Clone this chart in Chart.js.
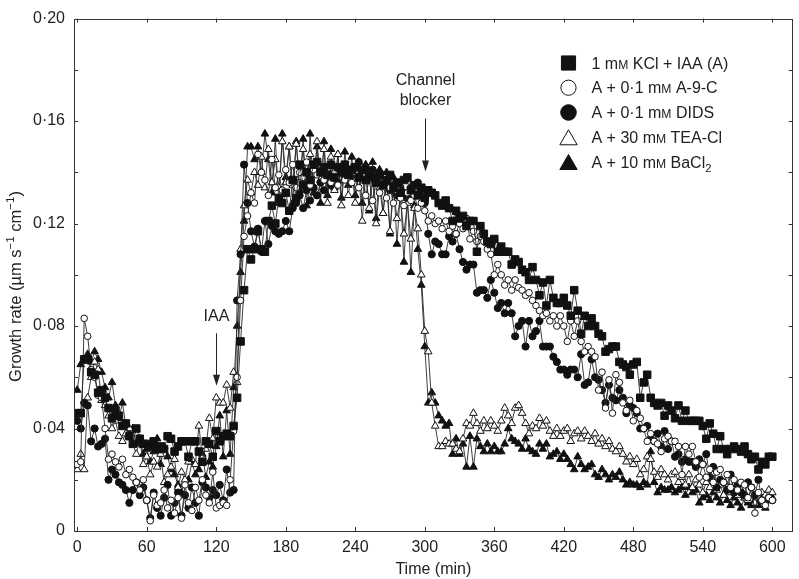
<!DOCTYPE html>
<html><head><meta charset="utf-8">
<script src="https://cdn.jsdelivr.net/npm/chart.js@4/dist/chart.umd.min.js"></script>
<style>html,body{margin:0;padding:0;background:#fff;}#wrap{width:799px;height:579px;}</style>
</head><body><div id="wrap"><canvas id="c" width="799" height="579"></canvas></div>
<script>
const times = [
0,3,6,9,12,15,18,21,24,27,
30,33,36,39,42,45,48,51,54,57,
60,63,66,69,72,75,78,81,84,87,
90,93,96,99,102,105,108,111,114,117,
120,123,126,129,132,135,138,141,144,147,
150,153,156,159,162,165,168,171,174,177,
180,183,186,189,192,195,198,201,204,207,
210,213,216,219,222,225,228,231,234,237,
240,243,246,249,252,255,258,261,264,267,
270,273,276,279,282,285,288,291,294,297,
300,303,306,309,312,315,318,321,324,327,
330,333,336,339,342,345,348,351,354,357,
360,363,366,369,372,375,378,381,384,387,
390,393,396,399,402,405,408,411,414,417,
420,423,426,429,432,435,438,441,444,447,
450,453,456,459,462,465,468,471,474,477,
480,483,486,489,492,495,498,501,504,507,
510,513,516,519,522,525,528,531,534,537,
540,543,546,549,552,555,558,561,564,567,
570,573,576,579,582,585,588,591,594,597,
600];

const kclIaa = [
.046,.046,.067,.067,.062,.061,.054,.055,.052,.048,
.044,.047,.045,.041,.042,.037,.034,.040,.036,.034,
.034,.033,.035,.032,.033,.032,.037,.036,.031,.033,
.035,.035,.029,.035,.035,.031,.027,.035,.034,.029,
.039,.035,.037,.038,.037,.041,.052,.074,.094,.110,
.106,.110,.117,.110,.109,.121,.127,.120,.130,.128,
.132,.125,.137,.130,.143,.135,.140,.137,.143,.144,
.140,.142,.139,.143,.138,.142,.140,.143,.139,.141,
.142,.138,.141,.137,.140,.138,.136,.139,.135,.137,
.139,.134,.136,.132,.137,.138,.133,.135,.131,.134,
.130,.133,.132,.131,.128,.127,.129,.126,.121,.125,
.122,.123,.119,.121,.121,.109,.119,.116,.113,.112,
.114,.109,.111,.109,.109,.104,.106,.105,.102,.101,
.098,.103,.098,.092,.097,.088,.098,.091,.089,.089,
.091,.088,.084,.094,.086,.077,.084,.080,.083,.080,
.077,.076,.070,.071,.072,.072,.066,.065,.064,.061,
.065,.066,.052,.058,.061,.052,.050,.049,.050,.045,
.049,.047,.044,.049,.043,.047,.043,.043,.043,.043,
.041,.036,.042,.038,.032,.037,.032,.030,.032,.033,
.032,.031,.033,.030,.028,.029,.024,.027,.026,.029,
.029];

const a9c = [
.026,.027,.083,.076,.063,.060,.053,.052,.040,.028,
.030,.027,.025,.028,.022,.024,.021,.019,.016,.020,
.012,.004,.014,.010,.011,.016,.009,.012,.007,.013,
.005,.018,.011,.008,.017,.012,.020,.014,.011,.023,
.009,.010,.011,.010,.020,.039,.060,.090,.115,.123,
.132,.128,.147,.140,.137,.131,.145,.134,.139,.133,
.141,.136,.143,.134,.140,.138,.144,.135,.141,.139,
.143,.137,.141,.136,.140,.135,.142,.137,.139,.136,
.140,.134,.139,.131,.137,.129,.136,.132,.135,.130,
.134,.128,.133,.130,.127,.132,.129,.131,.126,.128,
.125,.121,.123,.120,.121,.118,.121,.117,.119,.116,
.120,.118,.122,.114,.117,.113,.115,.113,.110,.108,
.100,.104,.100,.096,.098,.094,.098,.095,.094,.092,
.093,.090,.088,.086,.084,.085,.082,.084,.080,.084,
.080,.074,.082,.076,.082,.074,.070,.072,.070,.068,
.055,.062,.048,.059,.046,.061,.058,.050,.047,.051,
.043,.047,.044,.040,.035,.038,.035,.034,.031,.036,
.037,.035,.035,.033,.022,.033,.030,.033,.027,.021,
.026,.021,.024,.019,.023,.024,.019,.022,.017,.020,
.016,.019,.018,.013,.017,.007,.015,.012,.010,.013,
.012];

const dids = [
.043,.040,.050,.049,.035,.040,.033,.034,.036,.020,
.024,.022,.019,.018,.016,.011,.016,.019,.014,.017,
.012,.005,.015,.009,.006,.013,.018,.006,.011,.015,
.006,.014,.009,.017,.011,.006,.019,.017,.013,.016,
.014,.018,.012,.024,.015,.016,.090,.108,.143,.128,
.117,.111,.118,.109,.121,.112,.119,.117,.116,.117,
.121,.117,.126,.128,.131,.126,.133,.129,.134,.131,
.136,.133,.137,.135,.139,.136,.140,.138,.141,.139,
.141,.144,.139,.142,.138,.141,.136,.139,.135,.137,
.133,.135,.131,.134,.132,.130,.134,.131,.136,.133,
.128,.116,.108,.113,.112,.108,.108,.115,.113,.116,
.110,.105,.102,.104,.104,.093,.094,.094,.091,.098,
.093,.087,.089,.085,.089,.085,.076,.080,.082,.072,
.082,.076,.078,.082,.072,.072,.072,.068,.066,.063,
.063,.061,.063,.063,.060,.069,.057,.058,.067,.060,
.059,.055,.050,.057,.052,.051,.055,.052,.046,.049,
.048,.046,.040,.040,.041,.036,.035,.038,.033,.039,
.032,.035,.029,.030,.027,.028,.027,.027,.025,.028,
.026,.030,.021,.025,.017,.020,.019,.016,.022,.015,
.018,.015,.014,.019,.017,.014,.020,.012,.011,.013,
.012];

const teaCl = [
.024,.030,.024,.052,.060,.066,.063,.051,.049,.045,
.040,.043,.037,.035,.038,.040,.034,.030,.036,.026,
.029,.022,.027,.025,.030,.019,.022,.025,.028,.017,
.023,.020,.027,.028,.026,.041,.029,.032,.044,.036,
.052,.050,.050,.057,.048,.062,.058,.110,.127,.137,
.132,.140,.135,.146,.134,.149,.136,.145,.134,.152,
.136,.150,.135,.151,.138,.149,.135,.147,.134,.152,
.137,.149,.128,.146,.133,.147,.127,.143,.131,.141,
.128,.140,.121,.139,.126,.137,.120,.134,.124,.136,
.117,.133,.122,.130,.116,.128,.114,.126,.118,.100,
.078,.070,.050,.041,.033,.033,.035,.034,.034,.032,
.031,.036,.042,.041,.046,.042,.039,.043,.040,.043,
.041,.039,.043,.048,.045,.042,.048,.049,.046,.042,
.038,.041,.040,.044,.041,.043,.039,.037,.040,.037,
.039,.040,.035,.038,.039,.036,.039,.037,.035,.038,
.034,.036,.033,.035,.032,.031,.033,.030,.027,.029,
.026,.028,.022,.024,.029,.028,.023,.021,.024,.022,
.020,.022,.023,.019,.021,.018,.022,.017,.020,.018,
.015,.019,.017,.020,.016,.018,.014,.017,.015,.016,
.014,.016,.013,.012,.014,.011,.013,.015,.014,.016,
.015];

const baCl2 = [
.055,.065,.067,.069,.066,.070,.067,.062,.056,.052,
.058,.049,.044,.050,.041,.038,.040,.034,.036,.030,
.032,.027,.031,.036,.026,.033,.029,.024,.022,.018,
.015,.019,.020,.027,.022,.024,.030,.021,.027,.025,
.033,.045,.029,.047,.030,.056,.080,.101,.121,.150,
.150,.145,.150,.140,.155,.145,.132,.153,.128,.155,
.138,.150,.128,.152,.133,.153,.127,.155,.132,.150,
.128,.152,.131,.149,.134,.147,.130,.148,.135,.146,
.131,.144,.128,.143,.125,.144,.122,.141,.124,.140,
.116,.138,.112,.133,.105,.130,.101,.127,.110,.096,
.072,.050,.054,.050,.045,.043,.041,.042,.030,.036,
.030,.034,.025,.037,.025,.036,.033,.031,.034,.031,
.033,.031,.031,.034,.040,.036,.035,.034,.032,.036,
.032,.031,.030,.034,.032,.034,.029,.030,.031,.028,
.030,.028,.026,.024,.029,.026,.024,.025,.026,.022,
.021,.024,.022,.020,.022,.021,.023,.020,.018,.019,
.018,.018,.017,.019,.018,.031,.019,.015,.017,.016,
.016,.017,.015,.016,.017,.014,.017,.015,.016,.011,
.013,.014,.012,.015,.013,.011,.014,.012,.010,.013,
.011,.009,.013,.011,.010,.012,.010,.013,.009,.012,
.013];

const seriesLabels = ['1 mM KCl + IAA (A)', 'A + 0\u00B71 mM A-9-C', 'A + 0\u00B71 mM DIDS', 'A + 30 mM TEA-Cl', 'A + 10 mM BaCl2'];
const seriesRich = [
  [['1 m'],['M','sc'],[' KCl + IAA (A)']],
  [['A + 0\u00B71 m'],['M','sc'],[' A-9-C']],
  [['A + 0\u00B71 m'],['M','sc'],[' DIDS']],
  [['A + 30 m'],['M','sc'],[' TEA-Cl']],
  [['A + 10 m'],['M','sc'],[' BaCl'],['2','sub']]
];
const seriesValues = [kclIaa, a9c, dids, teaCl, baCl2];
const xTickValues = [0,60,120,180,240,300,360,420,480,540,600];
const yTickValues = [0,0.04,0.08,0.12,0.16,0.20];
const yMinorValues = [0,0.02,0.04,0.06,0.08,0.10,0.12,0.14,0.16,0.18,0.20];
const xTitle = 'Time (min)';
const yTitleRich = [['Growth rate (\u00B5m s'],['\u22121','sup'],[' cm'],['\u22121','sup'],[')']];
const annotations = [
  {x:120, lines:['IAA'], textY:[0.0838], arrowFrom:0.0772, arrowTo:0.0567},
  {x:300, lines:['Channel','blocker'], textY:[0.1758,0.1681], arrowFrom:0.161, arrowTo:0.1403}
];

const FONT = '"Liberation Sans", Arial, Helvetica, sans-serif';
const INK = '#222';
const markers = [
  {style:'rect', fill:'#111', r:5.3, lr:10},
  {style:'circle', fill:'#fff', r:3.3, lr:7.6},
  {style:'circle', fill:'#111', r:3.6, lr:7.8},
  {style:'triangle', fill:'#fff', r:4.4, lr:10},
  {style:'triangle', fill:'#111', r:4.4, lr:10}
];

function drawMarker(ctx, m, x, y, r) {
  ctx.save();
  ctx.fillStyle = m.fill; ctx.strokeStyle = '#111'; ctx.lineWidth = 1;
  ctx.beginPath();
  if (m.style === 'rect') {
    const s = r * Math.SQRT1_2;
    ctx.rect(x - s, y - s, 2*s, 2*s);
  } else if (m.style === 'circle') {
    ctx.arc(x, y, r, 0, Math.PI*2);
  } else {
    ctx.moveTo(x, y - r);
    ctx.lineTo(x + r*Math.sin(2*Math.PI/3), y - r*Math.cos(2*Math.PI/3));
    ctx.lineTo(x + r*Math.sin(4*Math.PI/3), y - r*Math.cos(4*Math.PI/3));
    ctx.closePath();
  }
  ctx.fill(); ctx.stroke();
  ctx.restore();
}

function segFont(k, size) {
  if (k === 'sc') return {fs: size*0.76, dy: 0};
  if (k === 'sub') return {fs: size*0.7, dy: size*0.28};
  if (k === 'sup') return {fs: size*0.7, dy: -size*0.4};
  return {fs: size, dy: 0};
}
function measureRich(ctx, segs, size) {
  let w = 0;
  for (const [t,k] of segs) { const f = segFont(k,size); ctx.font = f.fs + 'px ' + FONT; w += ctx.measureText(t).width; }
  return w;
}
function drawRich(ctx, segs, x, y, size) {
  let cx = x;
  for (const [t,k] of segs) {
    const f = segFont(k,size);
    ctx.font = f.fs + 'px ' + FONT;
    ctx.fillText(t, cx, y + f.dy);
    cx += ctx.measureText(t).width;
  }
}

const decor = {
  id: 'decor',
  afterDraw(chart) {
    const ctx = chart.ctx, a = chart.chartArea, xs = chart.scales.x, ys = chart.scales.y;
    ctx.save();
    // frame
    ctx.strokeStyle = '#333'; ctx.lineWidth = 1;
    ctx.strokeRect(Math.round(a.left)+0.5, Math.round(a.top)+0.5, Math.round(a.right-a.left)-1, Math.round(a.bottom-a.top));
    // inward ticks
    ctx.beginPath();
    for (const v of xTickValues) {
      const px = Math.round(xs.getPixelForValue(v)) + 0.5;
      ctx.moveTo(px, a.bottom); ctx.lineTo(px, a.bottom - 4);
      ctx.moveTo(px, a.top); ctx.lineTo(px, a.top + 4);
    }
    for (const v of yMinorValues) {
      const py = Math.round(ys.getPixelForValue(v)) + 0.5;
      ctx.moveTo(a.left, py); ctx.lineTo(a.left + 4, py);
      ctx.moveTo(a.right, py); ctx.lineTo(a.right - 4, py);
    }
    ctx.stroke();
    // annotations
    ctx.fillStyle = INK; ctx.strokeStyle = INK;
    ctx.textAlign = 'center'; ctx.textBaseline = 'middle';
    ctx.font = '16px ' + FONT;
    for (const an of annotations) {
      const px = Math.round(xs.getPixelForValue(an.x)) + 0.5;
      an.lines.forEach((t,i) => ctx.fillText(t, px, ys.getPixelForValue(an.textY[i])));
      const y1 = ys.getPixelForValue(an.arrowFrom), y2 = ys.getPixelForValue(an.arrowTo);
      ctx.lineWidth = 1;
      ctx.beginPath(); ctx.moveTo(px, y1); ctx.lineTo(px, y2 - 6); ctx.stroke();
      ctx.beginPath(); ctx.moveTo(px, y2); ctx.lineTo(px - 3.5, y2 - 11); ctx.lineTo(px + 3.5, y2 - 11); ctx.closePath(); ctx.fill();
    }
    // legend
    ctx.textAlign = 'left'; ctx.textBaseline = 'alphabetic';
    const rowsY = [63, 87.7, 112.5, 137.3, 162];
    seriesRich.forEach((segs, i) => {
      let my = rowsY[i];
      if (markers[i].style === 'triangle') my += 2.5;
      drawMarker(ctx, markers[i], 568.5, my, markers[i].lr);
      ctx.fillStyle = INK;
      drawRich(ctx, segs, 591.5, rowsY[i] + 5.6, 16);
    });
    // y title
    ctx.save();
    ctx.translate(20.5, 286.5);
    ctx.rotate(-Math.PI/2);
    const w = measureRich(ctx, yTitleRich, 16.5);
    ctx.fillStyle = INK;
    drawRich(ctx, yTitleRich, -w/2, 0, 16.5);
    ctx.restore();
    ctx.restore();
  }
};

const datasets = seriesValues.map((vals, i) => ({
  label: seriesLabels[i],
  data: times.map((t, j) => ({x: t, y: vals[j]})),
  borderColor: '#2a2a2a',
  borderWidth: 0.9,
  backgroundColor: markers[i].fill,
  pointBackgroundColor: markers[i].fill,
  pointBorderColor: '#111',
  pointBorderWidth: 1,
  pointStyle: markers[i].style,
  pointRadius: markers[i].r,
  tension: 0,
  fill: false
}));

new Chart(document.getElementById('c'), {
  type: 'line',
  data: { datasets },
  plugins: [decor],
  options: {
    responsive: false,
    animation: false,
    devicePixelRatio: 1,
    layout: { padding: { top: 9.5, right: 1.3, left: 0, bottom: 0 } },
    plugins: { legend: { display: false }, tooltip: { enabled: false } },
    scales: {
      x: {
        type: 'linear', min: -2.8, max: 617.6,
        afterBuildTicks: s => { s.ticks = xTickValues.map(v => ({value: v})); },
        afterFit: s => { s.height = 48; },
        grid: { display: false, drawTicks: false },
        border: { display: false },
        ticks: { padding: 7, color: INK, font: { size: 16, family: FONT }, maxRotation: 0, autoSkip: false },
        title: { display: true, text: xTitle, color: INK, font: { size: 16, family: FONT }, padding: { top: 0, bottom: 0 } }
      },
      y: {
        type: 'linear', min: 0, max: 0.2,
        afterBuildTicks: s => { s.ticks = yTickValues.map(v => ({value: v})); },
        afterFit: s => { s.width = 74; },
        grid: { display: false, drawTicks: false },
        border: { display: false },
        ticks: { padding: 9, color: INK, font: { size: 16, family: FONT },
          callback: v => v === 0 ? '0' : v.toFixed(2).replace('.', '\u00B7') }
      }
    }
  }
});
</script>
</body></html>
